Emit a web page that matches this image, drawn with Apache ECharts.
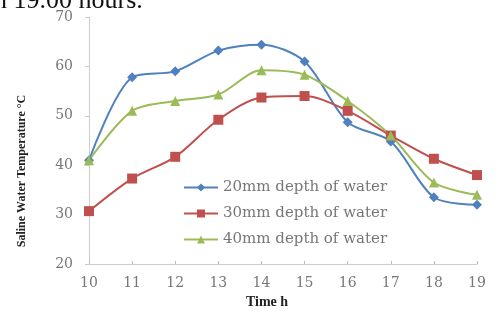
<!DOCTYPE html>
<html>
<head>
<meta charset="utf-8">
<script src="https://cdn.jsdelivr.net/npm/echarts@6/dist/echarts.min.js"></script>
<style>
  html, body { margin: 0; padding: 0; background: #fff; }
  #chart { width: 497px; height: 311px; }
</style>
</head>
<body>
<div id="chart"></div>
<script>
// data
const hours = ['10', '11', '12', '13', '14', '15', '16', '17', '18', '19'];
const depth20 = [41, 57.8, 59, 63.2, 64.4, 61, 48.7, 44.8, 33.5, 32];
const depth30 = [30.7, 37.3, 41.7, 49.2, 53.7, 54, 51, 46, 41.3, 38];
const depth40 = [41, 51, 53, 54.3, 59.2, 58.3, 53, 46, 36.5, 34];
const seriesNames = ['20mm depth of water', '30mm depth of water', '40mm depth of water'];

const serif = '"Liberation Serif", "DejaVu Serif", serif';
const wideSerif = '"DejaVu Serif", serif';
const chart = echarts.init(document.getElementById('chart'));

function makeSeries(name, data, color, symbol, size) {
    return {
        name: name,
        type: 'line',
        data: data,
        smooth: 0.3,
        symbol: symbol,
        symbolSize: size,
        lineStyle: { color: color, width: 2 },
        itemStyle: { color: color },
        z: 3
    };
}

const option = {
    animation: false,
    graphic: [
        {
            type: 'text',
            left: -6,
            top: -12,
            style: { text: 'n 19.00 hours.', font: '26px ' + serif, fill: '#111' }
        },
        // axis titles placed by hand, they sit off the grid centre in the picture
        {
            type: 'text',
            x: 22,
            y: 171,
            rotation: Math.PI / 2,
            style: {
                text: 'Saline Water Temperature \u00b0C',
                font: 'bold 12px ' + serif,
                fill: '#222',
                align: 'center',
                verticalAlign: 'middle'
            }
        },
        {
            type: 'text',
            x: 267,
            y: 302,
            style: {
                text: 'Time h',
                font: 'bold 14px ' + serif,
                fill: '#222',
                align: 'center',
                verticalAlign: 'middle'
            }
        }
    ],
    grid: { left: 89, right: 20, top: 17, bottom: 47 },
    legend: {
        orient: 'vertical',
        left: 178,
        top: 175,
        itemWidth: 34,
        itemHeight: 10,
        itemGap: 11,
        textStyle: { fontFamily: wideSerif, fontSize: 15, color: '#777' },
        data: seriesNames
    },
    xAxis: {
        type: 'category',
        data: hours,
        boundaryGap: false,
        axisLine: { lineStyle: { color: '#ccc' } },
        axisTick: { show: true, inside: true, length: 3, lineStyle: { color: '#bbb' } },
        axisLabel: { fontFamily: wideSerif, fontSize: 14, color: '#777', margin: 12 }
    },
    yAxis: {
        type: 'value',
        min: 20,
        max: 70,
        interval: 10,
        axisLine: { show: true, lineStyle: { color: '#ccc' } },
        axisTick: { show: true, length: 4, lineStyle: { color: '#ccc' } },
        splitLine: { show: false },
        axisLabel: { fontFamily: wideSerif, fontSize: 14, color: '#777', margin: 16 }
    },
    series: [
        makeSeries(seriesNames[0], depth20, '#4F81BD', 'diamond', 10),
        makeSeries(seriesNames[1], depth30, '#C0504D', 'rect', 10),
        makeSeries(seriesNames[2], depth40, '#9BBB59', 'triangle', 10)
    ]
};
chart.setOption(option);
</script>
</body>
</html>
